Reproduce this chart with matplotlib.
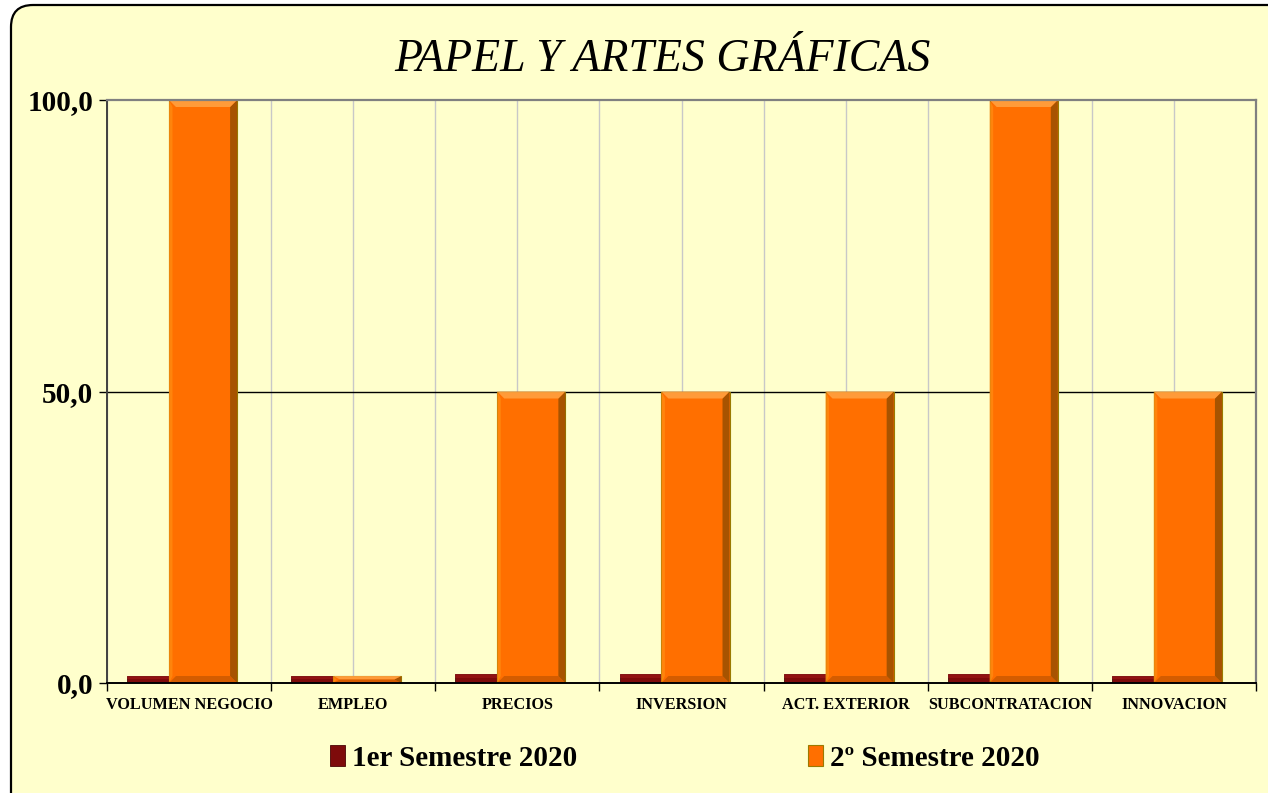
import numpy as np
import matplotlib
matplotlib.use("Agg")
import matplotlib.pyplot as plt
from matplotlib.patches import FancyBboxPatch, Polygon
from matplotlib.ticker import FixedLocator, NullFormatter, FixedFormatter

# ---- data ----
categories = ["VOLUMEN NEGOCIO", "EMPLEO", "PRECIOS", "INVERSION",
              "ACT. EXTERIOR", "SUBCONTRATACION", "INNOVACION"]
sem1 = [1.2, 1.2, 1.5, 1.5, 1.5, 1.5, 1.2]
sem2 = [100.0, 1.2, 50.0, 50.0, 50.0, 100.0, 50.0]
series_names = ["1er Semestre 2020", "2º Semestre 2020"]
y_ticks = [0, 50, 100]
y_tick_labels = ["0,0", "50,0", "100,0"]
title = "PAPEL Y ARTES GRÁFICAS"

# ---- style ----
BG = "#FFFFCC"
RED = "#7E0B0B"
ORANGE = "#FF6F00"
SERIF = ["Liberation Serif", "DejaVu Serif"]

W, H = 1268, 793
fig = plt.figure(figsize=(W / 100, H / 100), dpi=100)
fig.patch.set_facecolor("white")

# rounded chart-area frame (pixel coordinates)
frame = FancyBboxPatch((11, -30), 1290, 30 + H - 5,
                       boxstyle="round,pad=0,rounding_size=22",
                       transform=None, facecolor=BG, edgecolor="black",
                       linewidth=1.6, zorder=0)
fig.add_artist(frame)

ax = fig.add_axes([107 / W, 1 - 683 / H, (1256 - 107) / W, (683 - 100) / H])
ax.set_facecolor(BG)

x = np.arange(len(categories))
bw = 0.415
b1 = ax.bar(x - 0.17, sem1, bw, color=RED, edgecolor="#4A0505",
            linewidth=0.6, zorder=3, label=series_names[0])
b2 = ax.bar(x + 0.085, sem2, bw, color=ORANGE, edgecolor="#9A7A00",
            linewidth=0.8, zorder=4, label=series_names[1])

# bevel shading on each orange bar, derived from the bar geometry
px_x = (6.5 + 0.5) / (1256 - 107)
px_y = 100.0 / (683 - 100)
for rect in b2:
    x0, y0 = rect.get_x(), rect.get_y()
    w, h = rect.get_width(), rect.get_height()
    x1, y1 = x0 + w, y0 + h
    dx = min(7 * px_x, w / 2)
    dy = min(7 * px_y, h / 2)
    # right face (shadow)
    ax.add_patch(Polygon([(x1, y0), (x1, y1), (x1 - dx, y1 - dy), (x1 - dx, y0 + dy)],
                         closed=True, facecolor="#8A4A00", edgecolor="none",
                         alpha=0.75, zorder=5))
    # top face (highlight)
    ax.add_patch(Polygon([(x0, y1), (x1, y1), (x1 - dx, y1 - dy), (x0 + dx, y1 - dy)],
                         closed=True, facecolor="#FFA040", edgecolor="none",
                         alpha=0.9, zorder=5))
    # bottom face (soft shadow)
    ax.add_patch(Polygon([(x0, y0), (x1, y0), (x1 - dx, y0 + dy), (x0 + dx, y0 + dy)],
                         closed=True, facecolor="#B85000", edgecolor="none",
                         alpha=0.6, zorder=5))
    # left face (slight yellow rim)
    ax.add_patch(Polygon([(x0, y0), (x0, y1), (x0 + dx * 0.5, y1 - dy), (x0 + dx * 0.5, y0 + dy)],
                         closed=True, facecolor="#FF8A10", edgecolor="none",
                         alpha=0.8, zorder=5))

for rect in b1:
    x0, y0 = rect.get_x(), rect.get_y()
    w, h = rect.get_width(), rect.get_height()
    ax.add_patch(Polygon([(x0, y0 + h * 0.55), (x0 + w, y0 + h * 0.55),
                          (x0 + w, y0 + h), (x0, y0 + h)],
                         closed=True, facecolor="#A01818", edgecolor="none",
                         alpha=0.6, zorder=3.5))

ax.set_xlim(-0.5, len(categories) - 0.5)
ax.set_ylim(0, 100)

# x axis: ticks at category boundaries, labels at category centres
bounds = np.arange(len(categories) + 1) - 0.5
ax.xaxis.set_major_locator(FixedLocator(bounds))
ax.xaxis.set_major_formatter(NullFormatter())
ax.xaxis.set_minor_locator(FixedLocator(x))
ax.xaxis.set_minor_formatter(FixedFormatter(categories))
ax.tick_params(axis="x", which="major", length=6, width=1.0, color="black",
               direction="out")
ax.tick_params(axis="x", which="minor", length=0, pad=10)
for lab in ax.get_xticklabels(minor=True):
    lab.set_fontfamily(SERIF)
    lab.set_fontweight("bold")
    lab.set_fontsize(11.7)

ax.grid(True, axis="x", which="both", color="#C8C8C8", linewidth=1.0, zorder=1)

ax.set_yticks(y_ticks)
ax.set_yticklabels(y_tick_labels)
ax.tick_params(axis="y", length=6, width=1.0, color="black", direction="out", pad=4)
for lab in ax.get_yticklabels():
    lab.set_fontfamily(SERIF)
    lab.set_fontweight("bold")
    lab.set_fontsize(21)

# horizontal reference line at 50
ax.axhline(50, color="black", linewidth=1.0, zorder=2)

ax.spines["left"].set_color("#404040")
ax.spines["left"].set_linewidth(1.4)
ax.spines["bottom"].set_color("black")
ax.spines["bottom"].set_linewidth(1.4)
ax.spines["top"].set_color("#808080")
ax.spines["top"].set_linewidth(1.6)
ax.spines["right"].set_color("#808080")
ax.spines["right"].set_linewidth(1.6)
for s in ax.spines.values():
    s.set_zorder(6)

fig.text(662 / W, 1 - 60 / H, title, ha="center", va="center",
         fontfamily=SERIF, fontstyle="italic", fontsize=33)

leg = fig.legend(handles=[b1, b2], labels=series_names, loc="center",
                 bbox_to_anchor=(685 / W, 1 - 758 / H), ncol=2, frameon=False,
                 handlelength=0.5, handleheight=0.7, handletextpad=0.25,
                 columnspacing=7.9,
                 prop={"family": SERIF, "weight": "bold", "size": 21})

fig.savefig("out.png", dpi=100)
